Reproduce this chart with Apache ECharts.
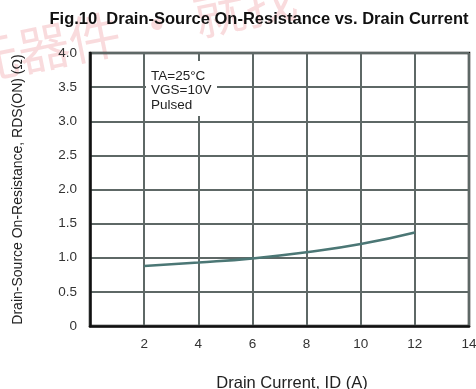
<!DOCTYPE html>
<html><head><meta charset="utf-8">
<script src="https://cdn.jsdelivr.net/npm/echarts@6/dist/echarts.min.js"></script>
<style>html,body{margin:0;padding:0;background:#fff}#c{width:476px;height:389px}</style>
</head><body><div id="c"></div>
<script>
const drainCurrent = [2, 4, 6, 8, 10, 12];
const rdsOn = [0.88, 0.93, 0.99, 1.08, 1.20, 1.37];
const xTicks = [0, 2, 4, 6, 8, 10, 12, 14];
const yTicks = [0, 0.5, 1.0, 1.5, 2.0, 2.5, 3.0, 3.5, 4.0];
const titleText = 'Fig.10  Drain-Source On-Resistance vs. Drain Current';
const xName = 'Drain Current, ID (A)';
const yName = 'Drain-Source On-Resistance, RDS(ON) (Ω)';
const conditions = ['TA=25°C', 'VGS=10V', 'Pulsed'];
const watermark = '元器件 · 就找';

const chart = echarts.init(document.getElementById('c'));
const font = '"Liberation Sans", Arial, sans-serif';
chart.setOption({
  animation: false,
  backgroundColor: '#fff',
  title: {
    text: titleText, left: 254, top: 6, textAlign: 'center',
    textStyle: { fontFamily: font, fontSize: 16.5, fontWeight: 'bold', color: '#111' }
  },
  grid: { left: 90, right: 7, top: 53, bottom: 63, containLabel: false, outerBoundsMode: 'none',
    show: true, borderColor: '#111', borderWidth: 2.5, backgroundColor: 'transparent' },
  xAxis: {
    type: 'value', min: xTicks[0], max: xTicks[xTicks.length - 1], interval: 2,
    name: xName, nameLocation: 'middle', nameGap: 49,
    nameTextStyle: { fontFamily: font, fontSize: 16.5, color: '#222', padding: [0, 0, 0, 25] },
    axisLine: { show: true, lineStyle: { color: '#111', width: 2.5 } },
    axisTick: { show: false },
    axisLabel: { fontFamily: font, fontSize: 13.5, color: '#333', margin: 11,
      formatter: v => v === 0 ? '' : String(v) },
    splitLine: { show: true, lineStyle: { color: '#5e6866', width: 2 } }
  },
  yAxis: {
    type: 'value', min: yTicks[0], max: yTicks[yTicks.length - 1], interval: 0.5,
    name: yName, nameLocation: 'middle', nameGap: 65,
    nameTextStyle: { fontFamily: font, fontSize: 14, color: '#222' },
    axisLine: { show: true, lineStyle: { color: '#111', width: 2.5 } },
    axisTick: { show: false },
    axisLabel: { fontFamily: font, fontSize: 13.5, color: '#333', margin: 13,
      formatter: v => v === 0 ? '0' : v.toFixed(1) },
    splitLine: { show: true, lineStyle: { color: '#5e6866', width: 2 } }
  },
  graphic: [
    {
      type: 'text', x: -33, y: 63, rotation: 0.2, z: -10, silent: true,
      style: { text: watermark, fontSize: 52, fontFamily: '"Noto Sans CJK SC", sans-serif',
        fill: 'rgba(232,110,120,0.25)', textVerticalAlign: 'middle' }
    },
    {
      type: 'rect', shape: { x: 146, y: 61, width: 71, height: 55 }, z: 5,
      style: { fill: '#fff' }
    },
    {
      type: 'text', left: 151, top: 69, z: 6,
      style: { text: conditions.join('\n'), fontFamily: font, fontSize: 13.5, lineHeight: 14.5, fill: '#222' }
    }
  ],
  series: [{
    type: 'line', smooth: true, showSymbol: false,
    data: drainCurrent.map((x, i) => [x, rdsOn[i]]),
    lineStyle: { color: '#4b7775', width: 2.5 }, z: 3
  }]
});
</script></body></html>
